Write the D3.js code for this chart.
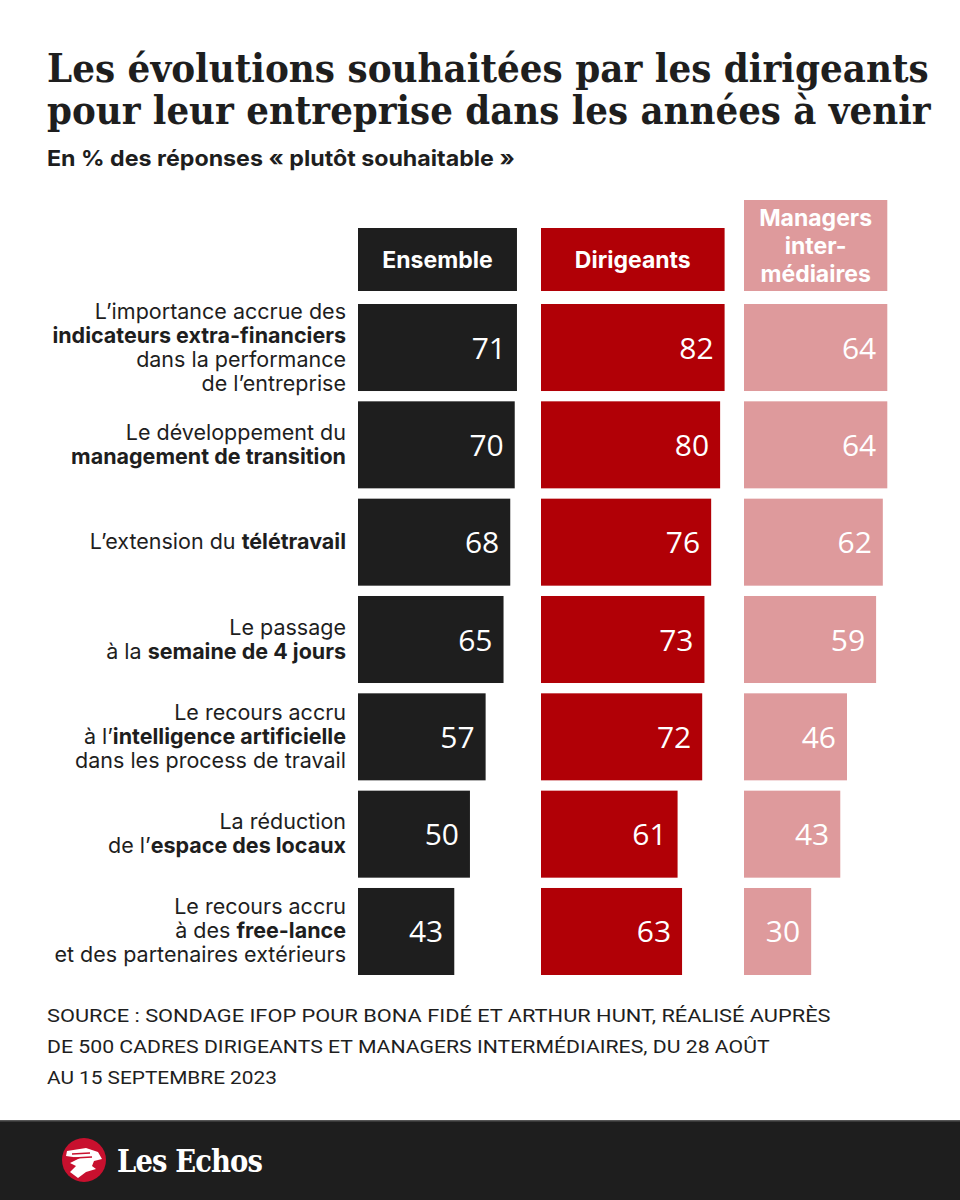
<!DOCTYPE html>
<html>
<head>
<meta charset="utf-8">
<script src="https://cdn.jsdelivr.net/npm/d3@7"></script>
<style>
  body { margin: 0; background: #fff; }
  svg { display: block; }
</style>
</head>
<body>
<svg id="chart" width="960" height="1200"></svg>
<script>
// --- data ---
const categories = [
  ["L’importance accrue des", "**indicateurs extra-financiers**", "dans la performance", "de l’entreprise"],
  ["Le développement du", "**management de transition**"],
  ["L’extension du **télétravail**"],
  ["Le passage", "à la **semaine de 4 jours**"],
  ["Le recours accru", "à l’**intelligence artificielle**", "dans les process de travail"],
  ["La réduction", "de l’**espace des locaux**"],
  ["Le recours accru", "à des **free-lance**", "et des partenaires extérieurs"]
];
const seriesNames = [["Ensemble"], ["Dirigeants"], ["Managers", "inter-", "médiaires"]];
const ensemble = [71, 70, 68, 65, 57, 50, 43];
const dirigeants = [82, 80, 76, 73, 72, 61, 63];
const managers = [64, 64, 62, 59, 46, 43, 30];
const titleLines = [
  "Les évolutions souhaitées par les dirigeants",
  "pour leur entreprise dans les années à venir"
];
const subtitle = "En % des réponses « plutôt souhaitable »";
const sourceLines = [
  "SOURCE : SONDAGE IFOP POUR BONA FIDÉ ET ARTHUR HUNT, RÉALISÉ AUPRÈS",
  "DE 500 CADRES DIRIGEANTS ET MANAGERS INTERMÉDIAIRES, DU 28 AOÛT",
  "AU 15 SEPTEMBRE 2023"
];

const series = [ensemble, dirigeants, managers];
const colors = ["#1e1e1e", "#b10006", "#de9a9c"];
const colX = [358, 541, 744];
const sans = "Inter, 'Noto Sans', sans-serif";

const svg = d3.select("#chart");

// squeeze a text horizontally so it spans `w` px from its x
function fitWidth(sel, w) {
  sel.each(function() {
    const t = d3.select(this);
    const x0 = +t.attr("x"), y0 = +t.attr("y");
    const k = w / this.getComputedTextLength();
    t.attr("x", 0).attr("y", 0)
      .attr("transform", `translate(${x0},${y0}) scale(${k},1)`);
  });
}

// title
const titleW = [882, 884];
svg.append("g").selectAll("text")
  .data(titleLines).enter()
  .append("text")
  .attr("x", 47)
  .attr("y", (d, i) => 82 + i * 42)
  .style("font-family", "'DejaVu Serif', serif")
  .style("font-weight", 700)
  .style("font-size", "39px")
  .style("fill", "#1e1e1e")
  .text(d => d)
  .each(function(d, i) { fitWidth(d3.select(this), titleW[i]); });

svg.append("text")
  .attr("x", 47)
  .attr("y", 166)
  .style("font-family", sans)
  .style("font-weight", 700)
  .style("font-size", "22px")
  .style("fill", "#1e1e1e")
  .text(subtitle)
  .call(fitWidth, 468);

// scales
const x = d3.scaleLinear().domain([0, 100]).range([0, 223.9]);
const y = d3.scaleBand()
  .domain(d3.range(categories.length))
  .range([304, 975])
  .paddingInner(0.106)
  .paddingOuter(0);

// headers
const headerBottom = 291;
series.forEach((vals, s) => {
  const lines = seriesNames[s];
  const top = lines.length > 1 ? 200 : 228;
  svg.append("rect")
    .attr("x", colX[s])
    .attr("y", top)
    .attr("width", x(vals[0]))
    .attr("height", headerBottom - top)
    .attr("fill", colors[s]);
  const cy = (top + headerBottom) / 2;
  svg.append("g").selectAll("text")
    .data(lines).enter()
    .append("text")
    .attr("x", colX[s] + x(vals[0]) / 2)
    .attr("y", (d, i) => cy + 8 + (i - (lines.length - 1) / 2) * 28)
    .attr("text-anchor", "middle")
    .style("font-family", sans)
    .style("font-weight", 700)
    .style("font-size", "23px")
    .style("fill", "#fff")
    .text(d => d);
});

// bars + values
series.forEach((vals, s) => {
  const g = svg.append("g").attr("transform", `translate(${colX[s]},0)`);
  g.selectAll("rect")
    .data(vals).enter()
    .append("rect")
    .attr("x", 0)
    .attr("y", (d, i) => y(i))
    .attr("width", d => x(d))
    .attr("height", y.bandwidth())
    .attr("fill", colors[s]);
  g.selectAll("text")
    .data(vals).enter()
    .append("text")
    .attr("x", d => x(d) - 11)
    .attr("y", (d, i) => y(i) + y.bandwidth() / 2 + 11)
    .attr("text-anchor", "end")
    .style("font-family", "'Open Sans', sans-serif")
    .style("font-size", "30px")
    .style("fill", "#fff")
    .text(d => d);
});

// category labels with bold parts
const labels = svg.append("g");
categories.forEach((lines, i) => {
  const cy = y(i) + y.bandwidth() / 2;
  lines.forEach((line, j) => {
    const t = labels.append("text")
      .attr("x", 346)
      .attr("y", cy + 7 + (j - (lines.length - 1) / 2) * 24)
      .attr("text-anchor", "end")
      .style("font-family", sans)
      .style("font-size", "21.5px")
      .style("fill", "#1e1e1e");
    line.split("**").forEach((part, k) => {
      if (!part) return;
      t.append("tspan")
        .style("font-weight", k % 2 ? 700 : 400)
        .text(part);
    });
  });
});

// source
const sourceW = [784, 723, 230];
svg.append("g").selectAll("text")
  .data(sourceLines).enter()
  .append("text")
  .attr("x", 47)
  .attr("y", (d, i) => 1022 + i * 31)
  .style("font-family", "'Liberation Sans Narrow', 'Roboto', sans-serif")
  .style("font-size", "19px")
  .style("fill", "#1e1e1e")
  .text(d => d)
  .each(function(d, i) { fitWidth(d3.select(this), sourceW[i]); });

// footer band + logo
svg.append("rect")
  .attr("x", 0).attr("y", 1120)
  .attr("width", 960).attr("height", 80)
  .attr("fill", "#1e1e1e");
svg.append("rect")
  .attr("x", 0).attr("y", 1120)
  .attr("width", 960).attr("height", 1.5)
  .attr("fill", "#555");

const logo = svg.append("g").attr("transform", "translate(84,1160)");
logo.append("circle").attr("r", 22).attr("fill", "#c8102e");
// rough winged head
logo.append("path")
  .attr("d", "M-17,-9 L2,-12 L14,-8 L18,-1 L10,1 L8,6 L12,9 L2,12 L-6,18 L-14,12 L-8,6 L-14,3 L-4,-2 L-18,-4 Z")
  .attr("fill", "#fff");
logo.append("path")
  .attr("d", "M-12,-6 L6,-7 M-10,-2 L8,-3")
  .attr("stroke", "#c8102e").attr("stroke-width", 1.5);

svg.append("text")
  .attr("x", 117)
  .attr("y", 1172)
  .style("font-family", "'DejaVu Serif', serif")
  .style("font-weight", 700)
  .style("font-size", "31px")
  .style("letter-spacing", "-1px")
  .style("fill", "#fff")
  .text("Les Echos")
  .call(fitWidth, 145);
</script>
</body>
</html>
